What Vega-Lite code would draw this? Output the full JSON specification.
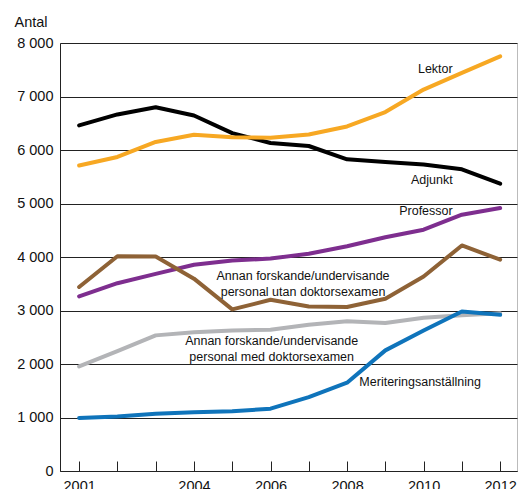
{
  "$schema": "https://vega.github.io/schema/vega-lite/v6.json",
  "autosize": {"type": "none"},
  "width": 457,
  "height": 428,
  "padding": {"left": 60, "top": 43, "right": 1, "bottom": 18},
  "background": "white",
  "config": {
    "font": "Liberation Sans",
    "view": {"stroke": "#bbbbbb", "strokeWidth": 1}
  },
  "datasets": {
    "series": [
      {"serie": "Adjunkt", "year": 2001, "value": 6460},
      {"serie": "Adjunkt", "year": 2002, "value": 6665},
      {"serie": "Adjunkt", "year": 2003, "value": 6800},
      {"serie": "Adjunkt", "year": 2004, "value": 6645},
      {"serie": "Adjunkt", "year": 2005, "value": 6315},
      {"serie": "Adjunkt", "year": 2006, "value": 6130},
      {"serie": "Adjunkt", "year": 2007, "value": 6075},
      {"serie": "Adjunkt", "year": 2008, "value": 5825},
      {"serie": "Adjunkt", "year": 2009, "value": 5775},
      {"serie": "Adjunkt", "year": 2010, "value": 5730},
      {"serie": "Adjunkt", "year": 2011, "value": 5640},
      {"serie": "Adjunkt", "year": 2012, "value": 5370},
      {"serie": "Lektor", "year": 2001, "value": 5710},
      {"serie": "Lektor", "year": 2002, "value": 5870},
      {"serie": "Lektor", "year": 2003, "value": 6150},
      {"serie": "Lektor", "year": 2004, "value": 6285},
      {"serie": "Lektor", "year": 2005, "value": 6240},
      {"serie": "Lektor", "year": 2006, "value": 6230},
      {"serie": "Lektor", "year": 2007, "value": 6290},
      {"serie": "Lektor", "year": 2008, "value": 6440},
      {"serie": "Lektor", "year": 2009, "value": 6710},
      {"serie": "Lektor", "year": 2010, "value": 7130},
      {"serie": "Lektor", "year": 2011, "value": 7440},
      {"serie": "Lektor", "year": 2012, "value": 7750},
      {"serie": "Professor", "year": 2001, "value": 3265},
      {"serie": "Professor", "year": 2002, "value": 3510},
      {"serie": "Professor", "year": 2003, "value": 3685},
      {"serie": "Professor", "year": 2004, "value": 3855},
      {"serie": "Professor", "year": 2005, "value": 3935},
      {"serie": "Professor", "year": 2006, "value": 3970},
      {"serie": "Professor", "year": 2007, "value": 4060},
      {"serie": "Professor", "year": 2008, "value": 4200},
      {"serie": "Professor", "year": 2009, "value": 4370},
      {"serie": "Professor", "year": 2010, "value": 4510},
      {"serie": "Professor", "year": 2011, "value": 4790},
      {"serie": "Professor", "year": 2012, "value": 4915},
      {"serie": "Utan", "year": 2001, "value": 3440},
      {"serie": "Utan", "year": 2002, "value": 4015},
      {"serie": "Utan", "year": 2003, "value": 4010},
      {"serie": "Utan", "year": 2004, "value": 3595},
      {"serie": "Utan", "year": 2005, "value": 3020},
      {"serie": "Utan", "year": 2006, "value": 3200},
      {"serie": "Utan", "year": 2007, "value": 3075},
      {"serie": "Utan", "year": 2008, "value": 3065},
      {"serie": "Utan", "year": 2009, "value": 3220},
      {"serie": "Utan", "year": 2010, "value": 3635},
      {"serie": "Utan", "year": 2011, "value": 4215},
      {"serie": "Utan", "year": 2012, "value": 3950},
      {"serie": "Med", "year": 2001, "value": 1955},
      {"serie": "Med", "year": 2002, "value": 2240},
      {"serie": "Med", "year": 2003, "value": 2535},
      {"serie": "Med", "year": 2004, "value": 2595},
      {"serie": "Med", "year": 2005, "value": 2625},
      {"serie": "Med", "year": 2006, "value": 2640},
      {"serie": "Med", "year": 2007, "value": 2735},
      {"serie": "Med", "year": 2008, "value": 2800},
      {"serie": "Med", "year": 2009, "value": 2765},
      {"serie": "Med", "year": 2010, "value": 2865},
      {"serie": "Med", "year": 2011, "value": 2910},
      {"serie": "Med", "year": 2012, "value": 2950},
      {"serie": "Merit", "year": 2001, "value": 990},
      {"serie": "Merit", "year": 2002, "value": 1020},
      {"serie": "Merit", "year": 2003, "value": 1070},
      {"serie": "Merit", "year": 2004, "value": 1100},
      {"serie": "Merit", "year": 2005, "value": 1115},
      {"serie": "Merit", "year": 2006, "value": 1165},
      {"serie": "Merit", "year": 2007, "value": 1380},
      {"serie": "Merit", "year": 2008, "value": 1650},
      {"serie": "Merit", "year": 2009, "value": 2255},
      {"serie": "Merit", "year": 2010, "value": 2625},
      {"serie": "Merit", "year": 2011, "value": 2980},
      {"serie": "Merit", "year": 2012, "value": 2920}
    ],
    "labels": [
      {"name": "Lektor", "lx": 2010.76, "ly": 7523},
      {"name": "Adjunkt", "lx": 2010.76, "ly": 5430},
      {"name": "Professor", "lx": 2010.76, "ly": 4869}
    ],
    "clabels": [
      {"txt": ["Meriteringsanställning"], "lx": 2009.91, "ly": 1660},
      {"txt": ["Annan forskande/undervisande", "personal utan doktorsexamen"], "lx": 2006.85, "ly": 3636},
      {"txt": ["Annan forskande/undervisande", "personal med doktorsexamen"], "lx": 2006.03, "ly": 2426}
    ]
  },
  "layer": [
    {
      "data": {"name": "series"},
      "mark": {"type": "line", "strokeWidth": 4, "strokeCap": "round", "strokeJoin": "round"},
      "encoding": {
        "x": {
          "field": "year", "type": "quantitative",
          "scale": {"domain": [2000.5, 2012.44], "nice": false, "zero": false},
          "axis": {
            "title": null,
            "values": [2001, 2002, 2003, 2004, 2005, 2006, 2007, 2008, 2009, 2010, 2011, 2012],
            "format": "d",
            "labelExpr": "indexof([2001, 2004, 2006, 2008, 2010, 2012], datum.value) >= 0 ? datum.label : ''",
            "grid": false,
            "domainColor": "#222222",
            "domainWidth": 1,
            "tickColor": "#222222",
            "tickWidth": 1,
            "tickSize": -10,
            "labelPadding": 18,
            "labelFontSize": 14.5,
            "labelColor": "#111111",
            "labelFlush": false,
            "labelOverlap": false
          }
        },
        "y": {
          "field": "value", "type": "quantitative",
          "scale": {"domain": [0, 8000], "nice": false},
          "axis": {
            "values": [0, 1000, 2000, 3000, 4000, 5000, 6000, 7000, 8000],
            "labelExpr": "replace(format(datum.value, ','), ',', ' ')",
            "title": "Antal",
            "titleAngle": 0,
            "titleAlign": "left",
            "titleBaseline": "middle",
            "titleX": -46,
            "titleY": -21,
            "titleFontSize": 14.5,
            "titleFontWeight": "normal",
            "titleColor": "#111111",
            "grid": true,
            "gridColor": "#222222",
            "gridWidth": 1,
            "domainColor": "#222222",
            "ticks": false,
            "labelPadding": 7,
            "labelFontSize": 14.5,
            "labelColor": "#111111"
          }
        },
        "color": {
          "field": "serie", "type": "nominal",
          "scale": {
            "domain": ["Med", "Merit", "Professor", "Utan", "Adjunkt", "Lektor"],
            "range": ["#b3b4b7", "#0f74bb", "#7e2e8f", "#8e6236", "#000000", "#f7a823"]
          },
          "legend": null
        }
      }
    },
    {
      "data": {"name": "labels"},
      "mark": {"type": "text", "align": "right", "baseline": "middle", "fontSize": 12.5, "color": "#111111"},
      "encoding": {
        "x": {"field": "lx", "type": "quantitative"},
        "y": {"field": "ly", "type": "quantitative"},
        "text": {"field": "name"}
      }
    },
    {
      "data": {"name": "clabels"},
      "mark": {"type": "text", "align": "center", "baseline": "middle", "lineHeight": 16, "fontSize": 12.5, "color": "#111111"},
      "encoding": {
        "x": {"field": "lx", "type": "quantitative"},
        "y": {"field": "ly", "type": "quantitative"},
        "text": {"field": "txt"}
      }
    }
  ]
}
